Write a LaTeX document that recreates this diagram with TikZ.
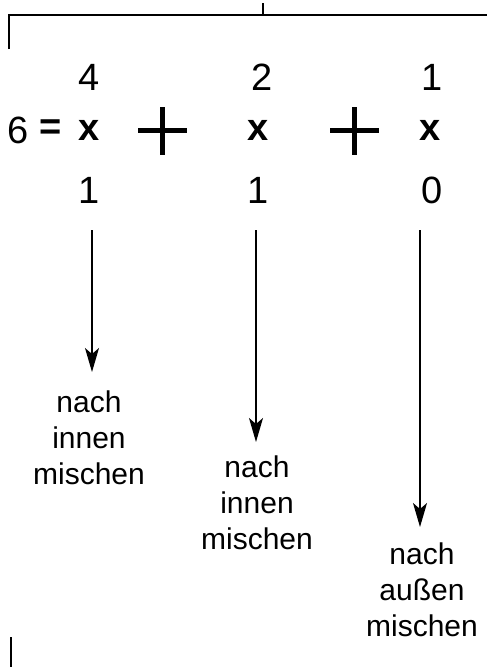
\documentclass[tikz,border=0pt]{standalone}
\usepackage{fontspec}
\setmainfont{Liberation Sans}
\usepackage{tikz}
\usetikzlibrary{positioning, calc, arrows.meta}

\begin{document}
\begin{tikzpicture}[
    x=1pt, y=-1pt,
    numnode/.style={inner sep=0pt, font=\fontsize{38}{40}\selectfont},
    varnode/.style={inner sep=0pt, font=\fontsize{38}{40}\selectfont\bfseries},
    labelnode/.style={inner sep=0pt, align=center, font=\fontsize{30}{36}\selectfont},
    frame/.style={line width=1.5pt},
    plusline/.style={line width=5pt},
    arrow/.style={-{Stealth[length=24pt, width=14pt, inset=6pt]}, line width=1.4pt}
]
    \useasboundingbox (0,0) rectangle (487,667);

    % bracket from the level above
    \draw[frame] (263,3) -- (263,15);
    \draw[frame] (9,49) -- (9,15) -- (487,15);
    \draw[frame] (11,637) -- (11,667);

    % weights
    \node[numnode] (w4) at (89,77) {4};
    \node[numnode] (w2) at (262,77) {2};
    \node[numnode] (w1) at (432,77) {1};

    % sum
    \node[numnode] (six) at (18,130) {6};
    \node[varnode] (eq) at (51,130) {=};
    \node[varnode] (x4) at (89,130) {x};
    \node[varnode] (x2) at (258,130) {x};
    \node[varnode] (x1) at (430,130) {x};
    \draw[plusline] (138,130) -- (187,130) (162,107) -- (162,155);
    \draw[plusline] (330,130) -- (379,130) (354,107) -- (354,155);

    % bits
    \node[numnode] (b4) at (89,190) {1};
    \node[numnode] (b2) at (258,190) {1};
    \node[numnode] (b1) at (432,190) {0};

    % operations
    \node[labelnode] (op4) at (89,438) {nach\\innen\\mischen};
    \node[labelnode] (op2) at (257,503) {nach\\innen\\mischen};
    \node[labelnode] (op1) at (422,590) {nach\\außen\\mischen};

    \coordinate (s4) at (92,230);
    \coordinate (e4) at (92,372);
    \coordinate (s2) at (256,230);
    \coordinate (e2) at (256,442);
    \coordinate (s1) at (420,230);
    \coordinate (e1) at (420,527);

    \draw[arrow] (s4) -- (e4);
    \draw[arrow] (s2) -- (e2);
    \draw[arrow] (s1) -- (e1);
\end{tikzpicture}
\end{document}
